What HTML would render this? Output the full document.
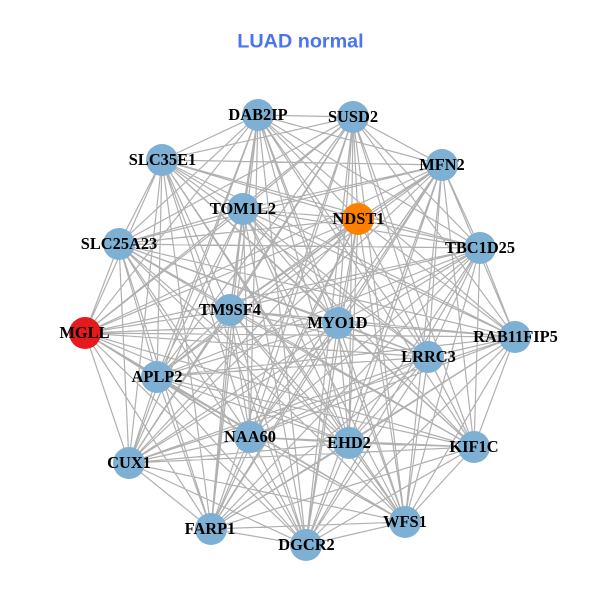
<!DOCTYPE html>
<html><head><meta charset="utf-8"><style>html,body{margin:0;padding:0;background:#fff}svg{display:block}</style></head><body>
<svg width="600" height="600" viewBox="0 0 600 600" xmlns="http://www.w3.org/2000/svg">
<rect width="600" height="600" fill="#fff"/>
<text x="300.5" y="47.5" text-anchor="middle" font-family="'Liberation Sans',sans-serif" font-weight="bold" font-size="19.8" fill="#4a74f2">LUAD normal</text>
<path fill="none" stroke="#b0b0b0" stroke-width="1.2" d="
M258 115L353 117M258 115L442 165M258 115L480 248M258 115L515 337M258 115L474 447M258 115L405 522M258 115L306 545M258 115L211 529M258 115L129 463M258 115L85 333M258 115L119 244M258 115L162 160M258 115L243 209M258 115L358 219M258 115L230 310M258 115L338 323M258 115L428 357M258 115L349 443M258 115L250 437M258 115L157 377
M353 117L442 165M353 117L480 248M353 117L515 337M353 117L474 447M353 117L405 522M353 117L306 545M353 117L211 529M353 117L129 463M353 117L85 333M353 117L119 244M353 117L162 160M353 117L243 209M353 117L358 219M353 117L230 310M353 117L338 323M353 117L428 357M353 117L349 443M353 117L250 437M353 117L157 377
M442 165L480 248M442 165L515 337M442 165L474 447M442 165L405 522M442 165L306 545M442 165L211 529M442 165L129 463M442 165L85 333M442 165L119 244M442 165L162 160M442 165L243 209M442 165L358 219M442 165L230 310M442 165L338 323M442 165L428 357M442 165L349 443M442 165L250 437M442 165L157 377
M480 248L515 337M480 248L474 447M480 248L405 522M480 248L306 545M480 248L211 529M480 248L129 463M480 248L85 333M480 248L119 244M480 248L162 160M480 248L243 209M480 248L358 219M480 248L230 310M480 248L338 323M480 248L428 357M480 248L349 443M480 248L250 437M480 248L157 377
M515 337L474 447M515 337L405 522M515 337L306 545M515 337L211 529M515 337L129 463M515 337L85 333M515 337L119 244M515 337L162 160M515 337L243 209M515 337L358 219M515 337L230 310M515 337L338 323M515 337L428 357M515 337L349 443M515 337L250 437M515 337L157 377
M474 447L405 522M474 447L306 545M474 447L211 529M474 447L129 463M474 447L85 333M474 447L119 244M474 447L162 160M474 447L243 209M474 447L358 219M474 447L230 310M474 447L338 323M474 447L428 357M474 447L349 443M474 447L250 437M474 447L157 377
M405 522L306 545M405 522L211 529M405 522L129 463M405 522L85 333M405 522L119 244M405 522L162 160M405 522L243 209M405 522L358 219M405 522L230 310M405 522L338 323M405 522L428 357M405 522L349 443M405 522L250 437M405 522L157 377
M306 545L211 529M306 545L129 463M306 545L85 333M306 545L119 244M306 545L162 160M306 545L243 209M306 545L358 219M306 545L230 310M306 545L338 323M306 545L428 357M306 545L349 443M306 545L250 437M306 545L157 377
M211 529L129 463M211 529L85 333M211 529L119 244M211 529L162 160M211 529L243 209M211 529L358 219M211 529L230 310M211 529L338 323M211 529L428 357M211 529L349 443M211 529L250 437M211 529L157 377
M129 463L85 333M129 463L119 244M129 463L162 160M129 463L243 209M129 463L358 219M129 463L230 310M129 463L338 323M129 463L428 357M129 463L349 443M129 463L250 437M129 463L157 377
M85 333L119 244M85 333L162 160M85 333L243 209M85 333L358 219M85 333L230 310M85 333L338 323M85 333L428 357M85 333L349 443M85 333L250 437M85 333L157 377
M119 244L162 160M119 244L243 209M119 244L358 219M119 244L230 310M119 244L338 323M119 244L428 357M119 244L349 443M119 244L250 437M119 244L157 377
M162 160L243 209M162 160L358 219M162 160L230 310M162 160L338 323M162 160L428 357M162 160L349 443M162 160L250 437M162 160L157 377
M243 209L358 219M243 209L230 310M243 209L338 323M243 209L428 357M243 209L349 443M243 209L250 437M243 209L157 377
M358 219L230 310M358 219L338 323M358 219L428 357M358 219L349 443M358 219L250 437M358 219L157 377
M230 310L338 323M230 310L428 357M230 310L349 443M230 310L250 437M230 310L157 377
M338 323L428 357M338 323L349 443M338 323L250 437M338 323L157 377
M428 357L349 443M428 357L250 437M428 357L157 377
M349 443L250 437M349 443L157 377
M250 437L157 377
"/>
<g fill="#7eb0d4">
<circle cx="258" cy="115" r="16"/><circle cx="353" cy="117" r="16"/><circle cx="442" cy="165" r="16"/><circle cx="480" cy="248" r="16"/><circle cx="515" cy="337" r="16"/><circle cx="474" cy="447" r="16"/><circle cx="405" cy="522" r="16"/><circle cx="306" cy="545" r="16"/><circle cx="211" cy="529" r="16"/><circle cx="129" cy="463" r="16"/><circle cx="119" cy="244" r="16"/><circle cx="162" cy="160" r="16"/><circle cx="243" cy="209" r="16"/><circle cx="230" cy="310" r="16"/><circle cx="338" cy="323" r="16"/><circle cx="428" cy="357" r="16"/><circle cx="349" cy="443" r="16"/><circle cx="250" cy="437" r="16"/><circle cx="157" cy="377" r="16"/>
</g>
<circle cx="85" cy="333" r="16" fill="#e41a1c"/>
<circle cx="358" cy="219" r="16" fill="#ff7f00"/>
<g font-family="'Liberation Serif',serif" font-weight="bold" font-size="16.4" text-anchor="middle" fill="#000">
<text x="258" y="120">DAB2IP</text><text x="353" y="122">SUSD2</text><text x="442" y="170">MFN2</text><text x="480" y="253">TBC1D25</text><text x="515.5" y="342">RAB11FIP5</text><text x="474" y="452">KIF1C</text><text x="405" y="527">WFS1</text><text x="306.5" y="550">DGCR2</text><text x="210" y="534">FARP1</text><text x="129" y="468">CUX1</text><text x="84.5" y="338">MGLL</text><text x="119" y="249">SLC25A23</text><text x="162.5" y="165">SLC35E1</text><text x="243" y="214">TOM1L2</text><text x="358.5" y="224">NDST1</text><text x="230" y="315">TM9SF4</text><text x="337.5" y="328">MYO1D</text><text x="428.5" y="362">LRRC3</text><text x="349" y="448">EHD2</text><text x="250" y="442">NAA60</text><text x="157" y="382">APLP2</text>
</g>
</svg>
</body></html>
